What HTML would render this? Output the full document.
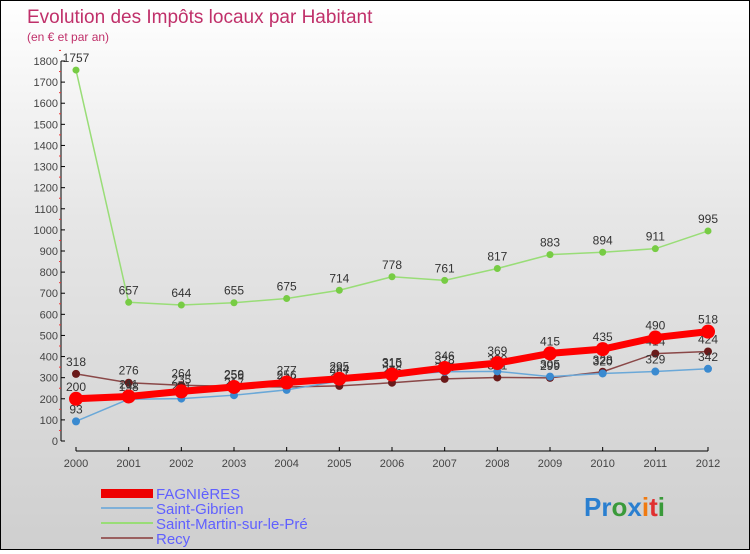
<!DOCTYPE html>
<html><head><meta charset="utf-8"><style>
body{margin:0;}
#c{width:748px;height:548px;border:1px solid #000;background:linear-gradient(#fff 0%,#e6e6e6 40%,#cfcfcf 100%);position:relative;font-family:"Liberation Sans",sans-serif;}
text{font-family:"Liberation Sans",sans-serif;}
</style></head><body>
<div id="c">
<svg id="s" width="748" height="548">
<text x="26" y="22" font-size="19" fill="#c0306a">Evolution des Impôts locaux par Habitant</text>
<text x="26" y="40" font-size="12" fill="#c0306a">(en € et par an)</text>
<g id="axes"></g><g id="series"></g>
<g>
<rect x="100" y="488" width="52" height="9" fill="#e00"/>
<text x="155" y="498" font-size="15" fill="#6060ff">FAGNIèRES</text>
<rect x="100" y="506" width="52" height="2" fill="#7fb0d8"/>
<text x="155" y="513" font-size="15" fill="#6060ff">Saint-Gibrien</text>
<rect x="100" y="521" width="52" height="2" fill="#99dd77"/>
<text x="155" y="528" font-size="15" fill="#6060ff">Saint-Martin-sur-le-Pré</text>
<rect x="100" y="536" width="52" height="2" fill="#9a6060"/>
<text x="155" y="543" font-size="15" fill="#6060ff">Recy</text>
</g>
<text x="583" y="515" font-size="26" font-weight="bold"><tspan fill="#2a7fd0">Pr</tspan><tspan fill="#3a9a3a">o</tspan><tspan fill="#2a7fd0">x</tspan><tspan fill="#f07a10">i</tspan><tspan fill="#e03030">t</tspan><tspan fill="#3a9a3a">i</tspan></text>
</svg></div>
<script>
const years=[2000,2001,2002,2003,2004,2005,2006,2007,2008,2009,2010,2011,2012];
const fagnieres=[200,211,235,256,277,295,315,346,369,415,435,490,518];
const saintGibrien=[93,198,201,217,242,284,310,328,330,305,320,329,342];
const saintMartin=[1757,657,644,655,675,714,778,761,817,883,894,911,995];
const recy=[318,276,264,259,256,261,276,294,301,299,328,414,424];
const yTicks=[0,100,200,300,400,500,600,700,800,900,1000,1100,1200,1300,1400,1500,1600,1700,1800];
const NS="http://www.w3.org/2000/svg";
const xS=i=>75+i*(707-75)/(years.length-1);
const yS=v=>440-v*(380/1800);
function mk(t,a,p){const e=document.createElementNS(NS,t);for(const k in a)e.setAttribute(k,a[k]);p.appendChild(e);return e;}
const ax=document.getElementById('axes');
let l=mk('line',{x1:60,y1:yS(1800),x2:60,y2:440,stroke:'#000'},ax);


yTicks.forEach(v=>{
 mk('line',{x1:60,x2:64,y1:yS(v),y2:yS(v),stroke:'#000'},ax);
 mk('line',{x1:58,x2:60,y1:yS(v+50),y2:yS(v+50),stroke:'#e33'},ax);
 const t=mk('text',{x:57,y:yS(v)+4,'font-size':11,'text-anchor':'end',fill:'#444'},ax);
 t.textContent=v;
 
 
});
l=mk('line',{x1:75,y1:450,x2:707,y2:450,stroke:'#000'},ax);


years.forEach((y,i)=>{
 mk('line',{x1:xS(i),x2:xS(i),y1:446,y2:450,stroke:'#000'},ax);
 const t=mk('text',{x:xS(i),y:466,'font-size':11,'text-anchor':'middle',fill:'#444'},ax);
 t.textContent=y;
 
 
});
const sg=document.getElementById('series');
function draw(vals,name,col,w,r,pc){
 const g=mk('g',{},sg);
 
 
 const pl=mk('polyline',{points:vals.map((v,i)=>xS(i)+','+yS(v)).join(' '),fill:'none',stroke:col,'stroke-width':w,'stroke-linejoin':'round'},g);
 
 
 vals.forEach((v,i)=>{
  const c=mk('circle',{cx:xS(i),cy:yS(v),r:r,fill:pc},g);
  
  
  const t=mk('text',{x:xS(i),y:yS(v)-8,'font-size':12,'text-anchor':'middle',fill:'#333'},g);
  t.textContent=v;
  
  
 });
}
draw(saintMartin,'saint-martin','#99dd77',1.5,3.5,'#77cc44');
draw(recy,'recy','#8a4848',1.5,4,'#6a1a1a');
draw(saintGibrien,'saint-gibrien','#6aa8d8',1.5,4,'#3a8ad0');
draw(fagnieres,'fagnieres','#ff0000',7,7,'#ff0000');
</script>
</body></html>
